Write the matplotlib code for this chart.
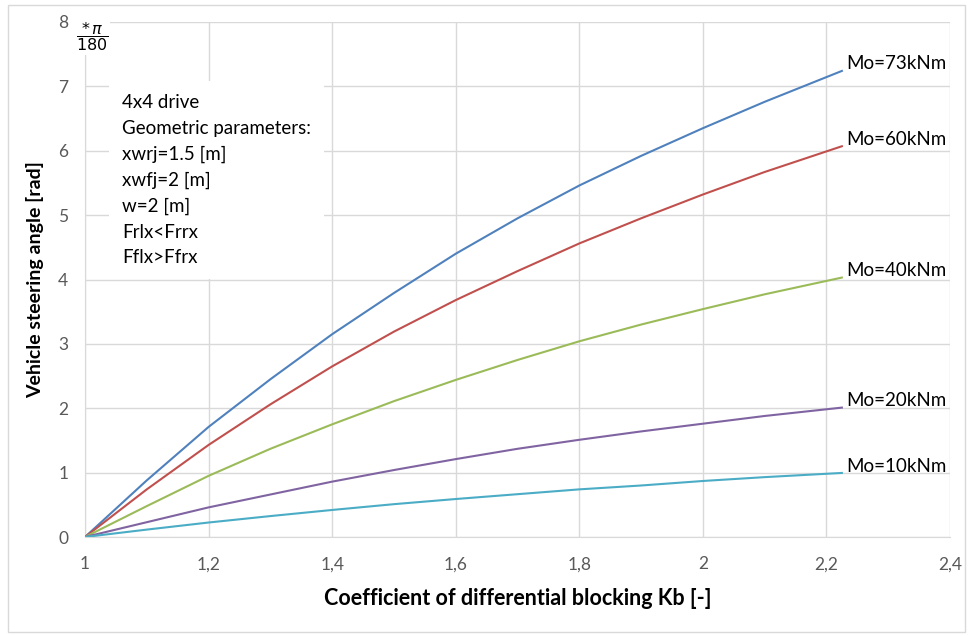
import matplotlib.pyplot as plt
from matplotlib.patches import Rectangle

plt.rcParams['font.family'] = ['Lato', 'DejaVu Sans']
plt.rcParams['mathtext.fontset'] = 'dejavusans'

# Coefficient of differential blocking Kb
kb = [1.0, 1.1, 1.2, 1.3, 1.4, 1.5, 1.6, 1.7, 1.8, 1.9, 2.0, 2.1, 2.225]

# Vehicle steering angle, one series per Mo
mo73 = [0, 0.88, 1.71, 2.45, 3.15, 3.79, 4.40, 4.95, 5.46, 5.92, 6.35, 6.76, 7.24]
mo60 = [0, 0.74, 1.43, 2.06, 2.65, 3.19, 3.68, 4.13, 4.56, 4.95, 5.32, 5.67, 6.07]
mo40 = [0, 0.48, 0.95, 1.37, 1.75, 2.11, 2.44, 2.75, 3.04, 3.30, 3.54, 3.77, 4.03]
mo20 = [0, 0.23, 0.46, 0.66, 0.86, 1.04, 1.21, 1.37, 1.51, 1.64, 1.76, 1.88, 2.01]
mo10 = [0, 0.115, 0.225, 0.325, 0.42, 0.51, 0.59, 0.665, 0.74, 0.80, 0.87, 0.93, 0.995]

series = [
    ("Mo=73kNm", mo73, "#4F81BD"),
    ("Mo=60kNm", mo60, "#C0504D"),
    ("Mo=40kNm", mo40, "#9BBB59"),
    ("Mo=20kNm", mo20, "#8064A2"),
    ("Mo=10kNm", mo10, "#4BACC6"),
]

x_ticks = [1, 1.2, 1.4, 1.6, 1.8, 2, 2.2, 2.4]
x_ticklabels = ["1", "1,2", "1,4", "1,6", "1,8", "2", "2,2", "2,4"]
y_ticks = [0, 1, 2, 3, 4, 5, 6, 7, 8]

info_lines = ["4x4 drive", "Geometric parameters:", "xwrj=1.5 [m]",
              "xwfj=2 [m]", "w=2 [m]", "Frlx<Frrx", "Fflx>Ffrx"]

W, H = 968, 636
fig = plt.figure(figsize=(W / 100, H / 100), dpi=100)
ax = fig.add_axes([85 / W, 1 - 537 / H, (950 - 85) / W, (537 - 22) / H])

# outer chart frame
fig.patches.append(Rectangle((8 / W, 4 / H), 957 / W, 627 / H, transform=fig.transFigure,
                             fill=False, edgecolor="#D9D9D9", linewidth=1))

for label, vals, color in series:
    ax.plot(kb, vals, color=color, linewidth=1.5, zorder=3)
    ax.annotate(label, xy=(kb[-1], vals[-1]), xytext=(3, 5), textcoords="offset points",
                fontsize=13.5, color="#000000", va="center", ha="left")

ax.set_xlim(1, 2.4)
ax.set_ylim(0, 8)
ax.set_xticks(x_ticks)
ax.set_xticklabels(x_ticklabels)
ax.set_yticks(y_ticks)
ax.grid(True, color="#D9D9D9", linewidth=1)
ax.set_axisbelow(True)
for side in ["top", "right"]:
    ax.spines[side].set_visible(False)
ax.spines["left"].set_color("#D9D9D9")
ax.spines["bottom"].set_color("#D9D9D9")
ax.tick_params(length=0, labelsize=12.5, colors="#595959", pad=14)
ax.tick_params(axis="y", pad=12)

ax.set_xlabel("Coefficient of differential blocking Kb [-]", fontsize=15.5,
              fontweight="bold", labelpad=11)
ax.set_ylabel("Vehicle steering angle [rad]", fontsize=14, fontweight="bold",
              labelpad=10)

# unit fraction beside the top tick
fig.text(92 / W, 1 - 37 / H, r"$\dfrac{*\,\pi}{180}$", fontsize=11.5, color="#000000",
         ha="center", va="center",
         bbox=dict(facecolor="white", edgecolor="none", pad=1))

# parameter box
ax.text(0.043, 0.86, "\n".join(info_lines), transform=ax.transAxes, fontsize=13.5,
        va="top", ha="left", linespacing=1.62, zorder=4,
        bbox=dict(facecolor="white", edgecolor="none", boxstyle="square,pad=0.7"))

fig.savefig("out.png", dpi=100)
